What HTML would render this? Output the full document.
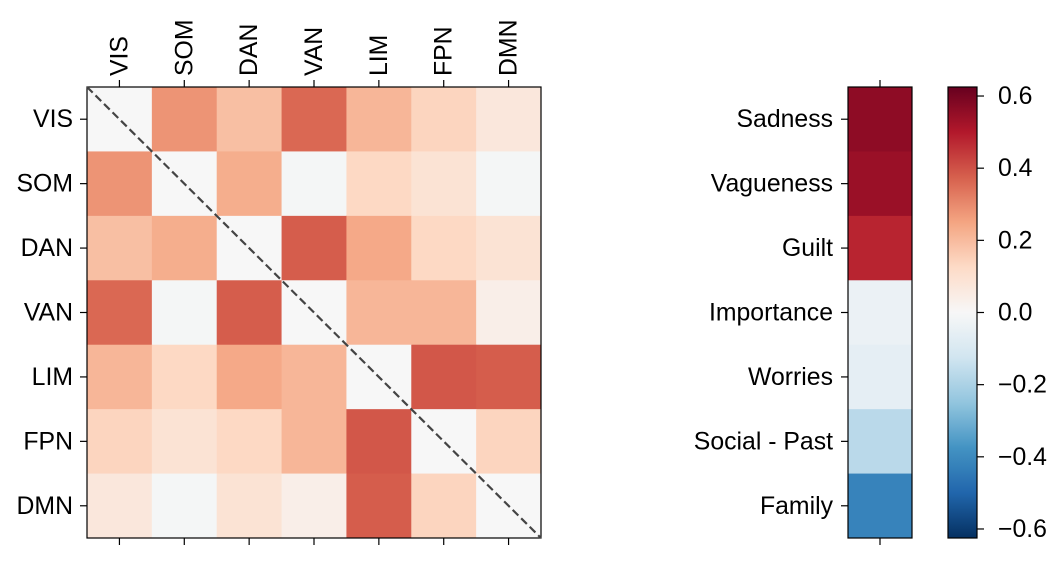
<!DOCTYPE html>
<html><head><meta charset="utf-8"><style>
body{margin:0;background:#fff;}
svg text{font-family:"Liberation Sans",Arial,sans-serif;font-size:24.8px;fill:#000;}
</style></head><body>
<svg id="chart" width="1061" height="559" viewBox="0 0 1061 559" xmlns="http://www.w3.org/2000/svg">
<defs><linearGradient id="cbgrad" x1="0" y1="1" x2="0" y2="0"></linearGradient></defs>
<g id="heat"></g>
<g id="bar"></g>
<g id="cb"></g>
</svg>
<script>
const networks=["VIS","SOM","DAN","VAN","LIM","FPN","DMN"];
const matrix=[
[0,0.28,0.19,0.36,0.21,0.14,0.07],
[0.28,0,0.23,-0.01,0.13,0.09,-0.01],
[0.19,0.23,0,0.38,0.24,0.13,0.09],
[0.36,-0.01,0.38,0,0.21,0.21,0.04],
[0.21,0.13,0.24,0.21,0,0.39,0.38],
[0.14,0.09,0.13,0.21,0.39,0,0.14],
[0.07,-0.01,0.09,0.04,0.38,0.14,0]];
const emotions=["Sadness","Vagueness","Guilt","Importance","Worries","Social - Past","Family"];
const emotionVals=[0.56,0.54,0.48,-0.04,-0.06,-0.17,-0.42];
const cbTicks=[-0.6,-0.4,-0.2,0.0,0.2,0.4,0.6];
const vmin=-0.625,vmax=0.625;
const NS="http://www.w3.org/2000/svg";
const cmap=["#053061","#2166ac","#4393c3","#92c5de","#d1e5f0","#f7f7f7","#fddbc7","#f4a582","#d6604d","#b2182b","#67001f"];
function hex(c){return [1,3,5].map(i=>parseInt(c.substr(i,2),16));}
function color(v){let t=(v-vmin)/(vmax-vmin);t=Math.max(0,Math.min(1,t));const p=t*10,i=Math.min(9,Math.floor(p)),f=p-i;const a=hex(cmap[i]),b=hex(cmap[i+1]);return "rgb("+a.map((x,k)=>Math.round(x+(b[k]-x)*f)).join(",")+")";}
function el(tag,attrs,parent){const e=document.createElementNS(NS,tag);for(const k in attrs)e.setAttribute(k,attrs[k]);parent.appendChild(e);return e;}
const hx0=87,hy0=87,hw=454,hh=451,n=networks.length,cw=hw/n,ch=hh/n;
const heat=document.getElementById('heat');
matrix.forEach((row,i)=>row.forEach((v,j)=>{
 const r=el('rect',{x:hx0+j*cw,y:hy0+i*ch,width:cw+0.5,height:ch+0.5,fill:color(v)},heat);
 
 
}));
el('rect',{x:hx0,y:hy0,width:hw,height:hh,fill:'none',stroke:'#000','stroke-width':1.2},heat);
const dl=el('line',{x1:hx0,y1:hy0,x2:hx0+hw,y2:hy0+hh,stroke:'#444','stroke-width':2.2,'stroke-dasharray':'8,4'},heat);


networks.forEach((nm,k)=>{
 const cx=hx0+(k+0.5)*cw,cy=hy0+(k+0.5)*ch;
 el('line',{x1:cx,y1:hy0-7,x2:cx,y2:hy0,stroke:'#000','stroke-width':1.2},heat);
 el('line',{x1:cx,y1:hy0+hh,x2:cx,y2:hy0+hh+7,stroke:'#000','stroke-width':1.2},heat);
 el('line',{x1:hx0-7,y1:cy,x2:hx0,y2:cy,stroke:'#000','stroke-width':1.2},heat);
 const tx=el('text',{x:0,y:0,transform:'translate('+(cx+8)+','+(hy0-11)+') rotate(-90)'},heat);
 tx.textContent=nm;
 
 
 const ty=el('text',{x:hx0-14,y:cy+8,'text-anchor':'end'},heat);
 ty.textContent=nm;
 
 
});
const bx=848,bw=64,by=87,bh=451,rh=bh/emotions.length;
const bar=document.getElementById('bar');
emotionVals.forEach((v,i)=>{
 const r=el('rect',{x:bx,y:by+i*rh,width:bw,height:rh+0.5,fill:color(v)},bar);
 
 
 el('line',{x1:bx-7,y1:by+(i+0.5)*rh,x2:bx,y2:by+(i+0.5)*rh,stroke:'#000','stroke-width':1.2},bar);
 const t=el('text',{x:bx-15,y:by+(i+0.5)*rh+8,'text-anchor':'end'},bar);
 t.textContent=emotions[i];
 
 
});
el('rect',{x:bx,y:by,width:bw,height:bh,fill:'none',stroke:'#000','stroke-width':1.2},bar);
el('line',{x1:bx+bw/2,y1:by-7,x2:bx+bw/2,y2:by,stroke:'#000','stroke-width':1.2},bar);
el('line',{x1:bx+bw/2,y1:by+bh,x2:bx+bw/2,y2:by+bh+7,stroke:'#000','stroke-width':1.2},bar);
const grad=document.getElementById('cbgrad');
for(let k=0;k<=40;k++){el('stop',{offset:(k/40),'stop-color':color(vmin+(vmax-vmin)*k/40)},grad);}
const cx0=948,cwid=29,cy0=87,chh=451;
const cb=document.getElementById('cb');
el('rect',{x:cx0,y:cy0,width:cwid,height:chh,fill:'url(#cbgrad)',stroke:'#000','stroke-width':1.2},cb);
const ys=v=>cy0+chh*(vmax-v)/(vmax-vmin);
cbTicks.forEach(v=>{
 const y=ys(v);
 el('line',{x1:cx0+cwid,y1:y,x2:cx0+cwid+7,y2:y,stroke:'#000','stroke-width':1.2},cb);
 const t=el('text',{x:998,y:y+8},cb);
 t.textContent=(v<0?'\u2212':'')+Math.abs(v).toFixed(1);
 
 
});
</script>
</body></html>
